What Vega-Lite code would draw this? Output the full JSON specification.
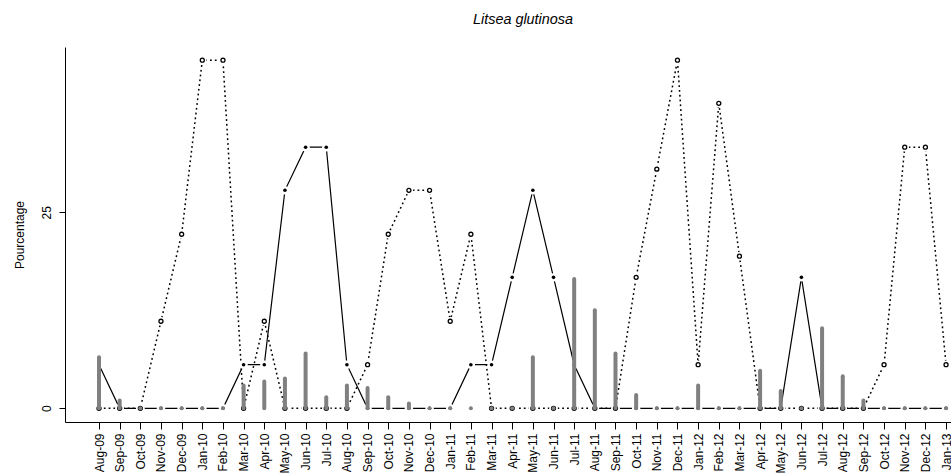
{
  "$schema": "https://vega.github.io/schema/vega-lite/v6.json",
  "width": 886,
  "height": 375,
  "autosize": "none",
  "padding": {"left": 65, "top": 47, "right": 0, "bottom": 53},
  "background": "white",
  "config": {
    "view": {"stroke": null},
    "font": "Liberation Sans",
    "axis": {
      "domainColor": "black",
      "tickColor": "black",
      "labelColor": "black",
      "titleColor": "black",
      "labelFont": "Liberation Sans",
      "labelFontSize": 12,
      "titleFont": "Liberation Sans",
      "titleFontSize": 12,
      "titleFontWeight": "normal",
      "grid": false,
      "domainWidth": 1,
      "tickWidth": 1
    }
  },
  "title": {
    "text": "Litsea glutinosa",
    "font": "Liberation Sans",
    "fontStyle": "italic",
    "fontWeight": "normal",
    "fontSize": 14.4,
    "color": "black",
    "anchor": "middle",
    "dx": 15,
    "offset": 9,
    "baseline": "alphabetic"
  },
  "resolve": {"axis": {"y": "independent"}},
  "data": {
    "values": [
      {"i": 1, "m": "Aug-09", "bar": 6.5, "solid": 5.56, "dotted": 0},
      {"i": 2, "m": "Sep-09", "bar": 1.0, "solid": 0, "dotted": 0},
      {"i": 3, "m": "Oct-09", "bar": 0, "solid": 0, "dotted": 0},
      {"i": 4, "m": "Nov-09", "bar": 0, "solid": 0, "dotted": 11.1},
      {"i": 5, "m": "Dec-09", "bar": 0, "solid": 0, "dotted": 22.2},
      {"i": 6, "m": "Jan-10", "bar": 0, "solid": 0, "dotted": 44.4},
      {"i": 7, "m": "Feb-10", "bar": 0, "solid": 0, "dotted": 44.4},
      {"i": 8, "m": "Mar-10", "bar": 2.9, "solid": 5.56, "dotted": 0},
      {"i": 9, "m": "Apr-10", "bar": 3.4, "solid": 5.56, "dotted": 11.1},
      {"i": 10, "m": "May-10", "bar": 3.8, "solid": 27.8, "dotted": 0},
      {"i": 11, "m": "Jun-10", "bar": 7.0, "solid": 33.3, "dotted": 0},
      {"i": 12, "m": "Jul-10", "bar": 1.4, "solid": 33.3, "dotted": 0},
      {"i": 13, "m": "Aug-10", "bar": 2.9, "solid": 5.56, "dotted": 0},
      {"i": 14, "m": "Sep-10", "bar": 2.6, "solid": 0, "dotted": 5.56},
      {"i": 15, "m": "Oct-10", "bar": 1.4, "solid": 0, "dotted": 22.2},
      {"i": 16, "m": "Nov-10", "bar": 0.6, "solid": 0, "dotted": 27.8},
      {"i": 17, "m": "Dec-10", "bar": 0, "solid": 0, "dotted": 27.8},
      {"i": 18, "m": "Jan-11", "bar": 0, "solid": 0, "dotted": 11.1},
      {"i": 19, "m": "Feb-11", "bar": 0, "solid": 5.56, "dotted": 22.2},
      {"i": 20, "m": "Mar-11", "bar": 0, "solid": 5.56, "dotted": 0},
      {"i": 21, "m": "Apr-11", "bar": 0, "solid": 16.7, "dotted": 0},
      {"i": 22, "m": "May-11", "bar": 6.5, "solid": 27.8, "dotted": 0},
      {"i": 23, "m": "Jun-11", "bar": 0, "solid": 16.7, "dotted": 0},
      {"i": 24, "m": "Jul-11", "bar": 16.5, "solid": 5.56, "dotted": 0},
      {"i": 25, "m": "Aug-11", "bar": 12.5, "solid": 0, "dotted": 0},
      {"i": 26, "m": "Sep-11", "bar": 7.0, "solid": 0, "dotted": 0},
      {"i": 27, "m": "Oct-11", "bar": 1.7, "solid": 0, "dotted": 16.7},
      {"i": 28, "m": "Nov-11", "bar": 0, "solid": 0, "dotted": 30.5},
      {"i": 29, "m": "Dec-11", "bar": 0, "solid": 0, "dotted": 44.4},
      {"i": 30, "m": "Jan-12", "bar": 2.9, "solid": 0, "dotted": 5.56},
      {"i": 31, "m": "Feb-12", "bar": 0, "solid": 0, "dotted": 38.9},
      {"i": 32, "m": "Mar-12", "bar": 0, "solid": 0, "dotted": 19.4},
      {"i": 33, "m": "Apr-12", "bar": 4.8, "solid": 0, "dotted": 0},
      {"i": 34, "m": "May-12", "bar": 2.2, "solid": 0, "dotted": 0},
      {"i": 35, "m": "Jun-12", "bar": 0, "solid": 16.7, "dotted": 0},
      {"i": 36, "m": "Jul-12", "bar": 10.2, "solid": 0, "dotted": 0},
      {"i": 37, "m": "Aug-12", "bar": 4.1, "solid": 0, "dotted": 0},
      {"i": 38, "m": "Sep-12", "bar": 1.0, "solid": 0, "dotted": 0},
      {"i": 39, "m": "Oct-12", "bar": 0, "solid": 0, "dotted": 5.56},
      {"i": 40, "m": "Nov-12", "bar": 0, "solid": 0, "dotted": 33.3},
      {"i": 41, "m": "Dec-12", "bar": 0, "solid": 0, "dotted": 33.3},
      {"i": 42, "m": "Jan-13", "bar": 0, "solid": 0, "dotted": 5.56}
    ]
  },
  "encoding": {
    "x": {
      "field": "i",
      "type": "quantitative",
      "scale": {"domain": [-0.646, 42.24], "nice": false, "zero": false},
      "axis": {
        "title": null,
        "values": [1,2,3,4,5,6,7,8,9,10,11,12,13,14,15,16,17,18,19,20,21,22,23,24,25,26,27,28,29,30,31,32,33,34,35,36,37,38,39,40,41,42],
        "labelExpr": "timeFormat(datetime(2009, 6 + datum.value, 1), '%b-%y')",
        "labelAngle": 270,
        "tickSize": 7,
        "labelPadding": 4,
        "labelOverlap": false,
        "labelBound": false,
        "labelFlush": false
      }
    }
  },
  "layer": [
    {
      "mark": {"type": "line", "color": "black", "strokeWidth": 1.2},
      "encoding": {
        "y": {
          "field": "solid",
          "type": "quantitative",
          "scale": {"domain": [-1.75, 46.08], "nice": false, "zero": false},
          "axis": {"title": "Pourcentage", "values": [0, 25], "labelAngle": 270, "tickSize": 6, "labelPadding": 6, "titlePadding": 14}
        }
      }
    },
    {
      "mark": {"type": "line", "color": "black", "strokeWidth": 1.5, "strokeDash": [1.8, 3]},
      "encoding": {"y": {"field": "dotted", "type": "quantitative", "axis": null}}
    },
    {
      "mark": {"type": "point", "shape": "circle", "filled": true, "color": "white", "opacity": 1, "size": 70},
      "encoding": {"y": {"field": "solid", "type": "quantitative", "axis": null}}
    },
    {
      "mark": {"type": "point", "shape": "circle", "filled": true, "color": "white", "opacity": 1, "size": 70},
      "encoding": {"y": {"field": "dotted", "type": "quantitative", "axis": null}}
    },
    {
      "mark": {"type": "point", "shape": "circle", "filled": true, "color": "black", "opacity": 1, "size": 13},
      "encoding": {"y": {"field": "solid", "type": "quantitative", "axis": null}}
    },
    {
      "mark": {"type": "point", "shape": "circle", "filled": false, "color": "black", "opacity": 1, "size": 16, "strokeWidth": 1.3},
      "encoding": {"y": {"field": "dotted", "type": "quantitative", "axis": null}}
    },
    {
      "mark": {"type": "rule", "color": "#808080", "strokeWidth": 4, "strokeCap": "round"},
      "encoding": {
        "y": {"field": "bar", "type": "quantitative", "axis": null},
        "y2": {"datum": 0}
      }
    }
  ]
}
